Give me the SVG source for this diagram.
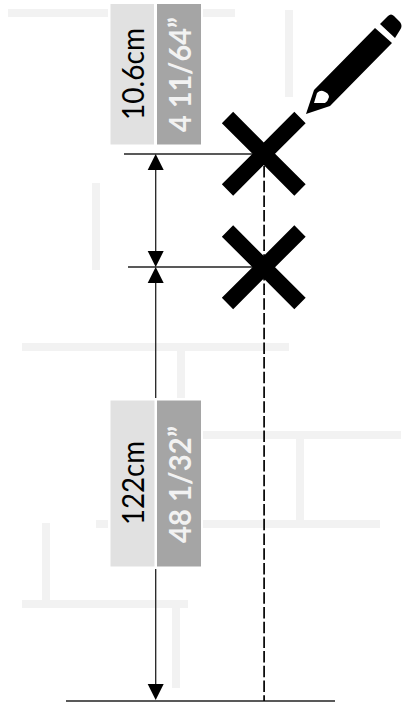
<svg xmlns="http://www.w3.org/2000/svg" width="402" height="702" viewBox="0 0 402 702">
  <style>
    .bg { fill: #f2f2f2; }
    .halo { fill: #ffffff; }
    .cm { fill: #e1e1e1; }
    .inch { fill: #a5a5a5; }
    .dim { stroke: #222222; stroke-width: 1.3; fill: none; }
    .dash { stroke: #000000; stroke-width: 1.7; fill: none; stroke-dasharray: 11.500 3.200; }
    .cross { stroke: #000000; stroke-width: 16; fill: none; }
    .t1 { font-family: "Lato", sans-serif; font-size: 30px; fill: #000000; }
    .t2 { font-family: "Lato", sans-serif; font-size: 30px; font-weight: 700; fill: #f2f2f2; }
  </style>
  <g id="background">
    <rect class="bg" x="8" y="9" width="227" height="8"/>
    <rect class="bg" x="285" y="10" width="8" height="87"/>
    <rect class="bg" x="92" y="183" width="8" height="87"/>
    <rect class="bg" x="22" y="343" width="267" height="8"/>
    <rect class="bg" x="177" y="351" width="8" height="50"/>
    <rect class="bg" x="190" y="431" width="211" height="8"/>
    <rect class="bg" x="296" y="439" width="8" height="81"/>
    <rect class="bg" x="96" y="520" width="284" height="8"/>
    <rect class="bg" x="42" y="523" width="8" height="77"/>
    <rect class="bg" x="22" y="600" width="166" height="8"/>
    <rect class="bg" x="172" y="608" width="8" height="80"/>
  </g>
  <g id="connectors">
    <line class="dim" x1="124" y1="154" x2="254" y2="154"/>
    <line class="dim" x1="128" y1="267" x2="254" y2="267"/>
    <line class="dim" x1="66" y1="701" x2="335" y2="701"/>
    <line class="dim" x1="155.700" y1="165" x2="155.700" y2="255"/>
    <line class="dim" x1="155.700" y1="280" x2="155.700" y2="690"/>
    <line class="dash" x1="264.100" y1="166" x2="264.100" y2="701"/>
    <polygon points="155.700,154 147.700,170 163.700,170"/>
    <polygon points="155.700,267 147.700,251 163.700,251"/>
    <polygon points="155.700,267 147.700,283 163.700,283"/>
    <polygon points="155.700,700 147.700,684 163.700,684"/>
  </g>
  <g id="label-top">
    <rect class="halo" x="108" y="2" width="95" height="144"/>
    <rect class="cm" x="110.500" y="4" width="43.500" height="140.500"/>
    <rect class="inch" x="157" y="4" width="44" height="140.500"/>
    <text class="t1" transform="translate(144 120) rotate(-90)" textLength="92" lengthAdjust="spacingAndGlyphs">10.6cm</text>
    <text class="t2" transform="translate(190.500 132) rotate(-90)" textLength="115" lengthAdjust="spacingAndGlyphs">4 11/64”</text>
  </g>
  <g id="label-bottom">
    <rect class="halo" x="108" y="398" width="95" height="171"/>
    <rect class="cm" x="110.500" y="400.500" width="44" height="166"/>
    <rect class="inch" x="157" y="400.500" width="44" height="166"/>
    <text class="t1" transform="translate(144 525) rotate(-90)" textLength="84" lengthAdjust="spacingAndGlyphs">122cm</text>
    <text class="t2" transform="translate(190.500 543) rotate(-90)" textLength="117" lengthAdjust="spacingAndGlyphs">48 1/32”</text>
  </g>
  <g id="mark-1">
    <path class="cross" d="M227.500 117.500L300 190M300 117.500L227.500 190"/>
  </g>
  <g id="mark-2">
    <path class="cross" d="M227.500 231L300 303.500M300 231L227.500 303.500"/>
  </g>
  <g id="pencil">
    <path fill-rule="evenodd" d="M306 114L314 90L375 28L392 43L330 106ZM314 103L317 93Q320 90 323 91Q329 93 329 97Q328 101 325 103Z"/>
    <path d="M380 24L388 16Q391 13 394 16L400 22Q403 26 400 30L395 38Z"/>
  </g>
</svg>
